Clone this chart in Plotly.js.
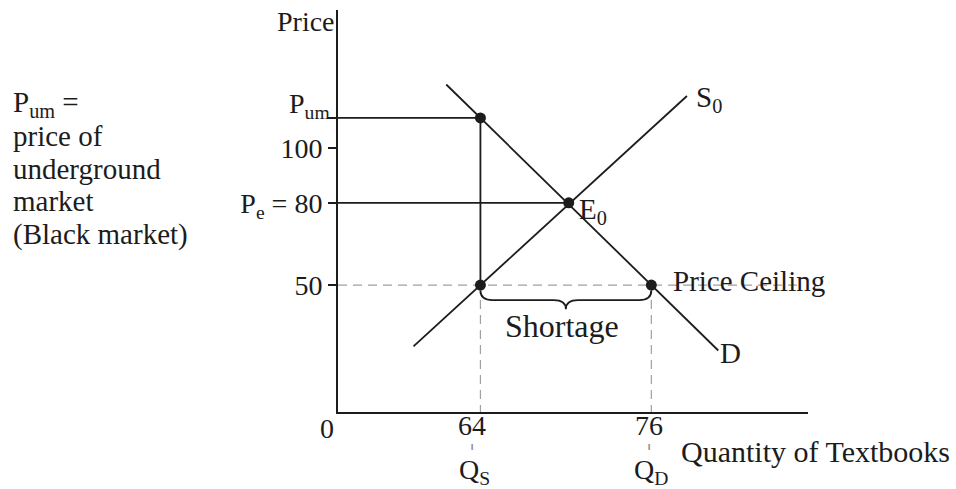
<!DOCTYPE html>
<html>
<head>
<meta charset="utf-8">
<script src="https://cdn.plot.ly/plotly-3.0.1.min.js"></script>
<style>html,body{margin:0;padding:0;background:#fff;}#chart{width:956px;height:489px;}</style>
</head>
<body>
<div id="chart"></div>
<script>
// ---- data ----
const qRange = [54, 87];          // visible quantity window (origin drawn as 0)
const pRange = [3.65, 150.4];     // visible price window
const demandQ = [61.6, 80.7];
const demandP = [123.2, 26.1];
const supplyQ = [59.3, 78.5];
const supplyP = [27.6, 119.0];
const qS = 64;        // quantity supplied at ceiling
const qD = 76;        // quantity demanded at ceiling
const qE = 70.2;      // equilibrium quantity
const pE = 80;        // equilibrium price
const pUM = 111;      // underground market price
const pCeil = 50;     // price ceiling
const ceilEndQ = 86.4;
const yTickVals = [50, 80, 100, 111];
const yTickText = ['50', 'P<sub>e</sub> = 80', '100', ''];
const pointQ = [qS, qE, qS, qD];
const pointP = [pUM, pE, pCeil, pCeil];
const noteLines = ['P<sub>um</sub> =', 'price of', 'underground', 'market', '(Black market)'];

const FONT = '"Liberation Serif", "Times New Roman", serif';
const INK = '#1c1c1c';
const FS = 29;
const LW = 1.8;
const DASH = {color: '#a0a0a0', width: 1.2, dash: '9px,6px'};

const traces = [
  {x: demandQ, y: demandP, mode: 'lines', line: {color: INK, width: LW}, hoverinfo: 'skip'},
  {x: supplyQ, y: supplyP, mode: 'lines', line: {color: INK, width: LW}, hoverinfo: 'skip'},
  {x: [qRange[0], ceilEndQ], y: [pCeil, pCeil], mode: 'lines', line: DASH, hoverinfo: 'skip'},
  {x: [qS, qS], y: [pCeil, pRange[0]], mode: 'lines', line: DASH, hoverinfo: 'skip'},
  {x: [qD, qD], y: [pCeil, pRange[0]], mode: 'lines', line: DASH, hoverinfo: 'skip'},
  {x: [qRange[0], qS, qS], y: [pUM, pUM, pCeil], mode: 'lines', line: {color: INK, width: LW}, hoverinfo: 'skip'},
  {x: [qRange[0], qE], y: [pE, pE], mode: 'lines', line: {color: INK, width: LW}, hoverinfo: 'skip'},
  {x: pointQ, y: pointP, mode: 'markers', marker: {color: INK, size: 11}, hoverinfo: 'skip'}
];

// curly brace under the ceiling between qS and qD
const mid = (qS + qD) / 2;
const b0 = pCeil - 2, b1 = pCeil - 5.5, b2 = pCeil - 8.8, r = 0.85;
const bracePath = `M ${qS},${b0} Q ${qS},${b1} ${qS + r},${b1} L ${mid - r},${b1} Q ${mid},${b1} ${mid},${b2} ` +
  `Q ${mid},${b1} ${mid + r},${b1} L ${qD - r},${b1} Q ${qD},${b1} ${qD},${b0}`;

const pxX = px => (px - 338) / 470;   // paper coords helpers for free text
const pxY = py => (412 - py) / 402;

const ann = [];
function add(o, size) { ann.push(Object.assign({showarrow: false, font: {family: FONT, size: size || FS, color: INK}}, o)); }

add({text: 'Price', xref: 'paper', yref: 'paper', x: 0, xshift: -1, y: pxY(21), xanchor: 'right', yanchor: 'middle'}, 28);
add({text: 'P<sub>um</sub>', xref: 'paper', yref: 'y', x: 0, xshift: -6, y: pUM, yshift: 12, xanchor: 'right', yanchor: 'middle'}, 28);
add({text: 'S<sub>0</sub>', xref: 'x', yref: 'y', x: supplyQ[1], xshift: 7, y: supplyP[1], yshift: -3, xanchor: 'left', yanchor: 'middle'});
add({text: 'E<sub>0</sub>', xref: 'x', yref: 'y', x: qE, xshift: 8, y: pE, yshift: -8, xanchor: 'left', yanchor: 'middle'});
add({text: 'D', xref: 'x', yref: 'y', x: demandQ[1], xshift: 0, y: demandP[1], yshift: -2, xanchor: 'left', yanchor: 'middle'});
add({text: 'Price Ceiling', xref: 'x', yref: 'y', x: 77.4, y: pCeil, yshift: 4, xanchor: 'left', yanchor: 'middle'});
add({text: 'Shortage', xref: 'x', yref: 'y', x: mid, xshift: -4, y: 35, xanchor: 'center', yanchor: 'middle'}, 32);
add({text: 'Quantity of Textbooks', xref: 'paper', yref: 'paper', x: pxX(679), y: pxY(451), xanchor: 'left', yanchor: 'middle'}, 30);
add({text: '0', xref: 'paper', yref: 'paper', x: pxX(327), y: pxY(428), xanchor: 'center', yanchor: 'middle'}, 28);
add({text: String(qS), xref: 'x', yref: 'paper', x: qS, xshift: -8, y: pxY(443), xanchor: 'center', yanchor: 'bottom'}, 28);
add({text: String(qD), xref: 'x', yref: 'paper', x: qD, xshift: -2, y: pxY(443), xanchor: 'center', yanchor: 'bottom'}, 28);
add({text: '‖', xref: 'x', yref: 'paper', x: qS, xshift: -8, y: pxY(447), xanchor: 'center', yanchor: 'middle'}, 8);
add({text: '‖', xref: 'x', yref: 'paper', x: qD, xshift: -2, y: pxY(447), xanchor: 'center', yanchor: 'middle'}, 8);
add({text: 'Q<sub>S</sub>', xref: 'x', yref: 'paper', x: qS, xshift: -6, y: pxY(452), xanchor: 'center', yanchor: 'top'}, 28);
add({text: 'Q<sub>D</sub>', xref: 'x', yref: 'paper', x: qD, xshift: 0, y: pxY(452), xanchor: 'center', yanchor: 'top'}, 28);

const noteY = [104, 136, 169, 201, 234];
noteLines.forEach((t, i) => add({text: t, xref: 'paper', yref: 'paper', x: pxX(11), y: pxY(noteY[i]), xanchor: 'left', yanchor: 'middle'}, 29));

const layout = {
  width: 956, height: 489,
  margin: {l: 338, r: 148, t: 10, b: 77, pad: 0},
  paper_bgcolor: '#ffffff', plot_bgcolor: '#ffffff',
  showlegend: false,
  font: {family: FONT, size: FS, color: INK},
  xaxis: {range: qRange, showline: true, linecolor: INK, linewidth: 2, showgrid: false, zeroline: false,
          showticklabels: false, ticks: '', fixedrange: true},
  yaxis: {range: pRange, showline: true, linecolor: INK, linewidth: 2, showgrid: false, zeroline: false,
          tickmode: 'array', tickvals: yTickVals, ticktext: yTickText, ticks: 'outside', ticklen: 8,
          tickwidth: 2, tickcolor: INK, tickfont: {family: FONT, size: 28, color: INK}, fixedrange: true},
  shapes: [{type: 'path', xref: 'x', yref: 'y', path: bracePath, line: {color: INK, width: LW}}],
  annotations: ann
};

Plotly.newPlot('chart', traces, layout, {displayModeBar: false, staticPlot: true});
</script>
</body>
</html>
